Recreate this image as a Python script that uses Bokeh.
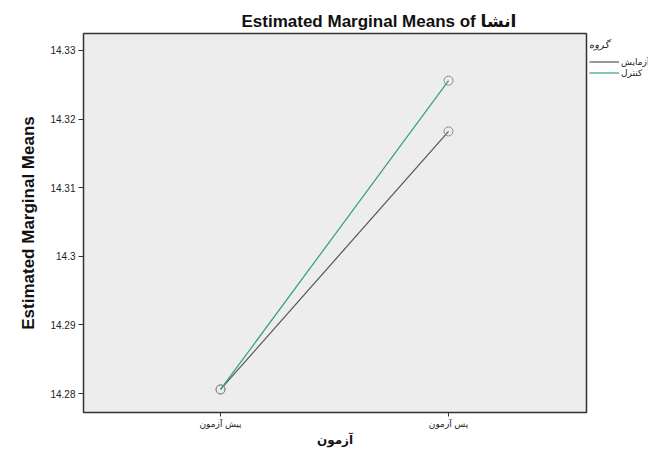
from bokeh.plotting import figure
from bokeh.layouts import row
from bokeh.models import ColumnDataSource, FixedTicker, Legend, LegendItem, Range1d
from bokeh.embed import file_html
from bokeh.resources import INLINE

categories = ["پیش آزمون", "پس آزمون"]
group_names = ["آزمایش", "کنترل"]
experiment = [14.2806, 14.3182]
control = [14.2806, 14.3256]
y_ticks = [14.28, 14.29, 14.30, 14.31, 14.32, 14.33]
y_tick_labels = ["14.28", "14.29", "14.3", "14.31", "14.32", "14.33"]

colors = ["#555555", "#2f9e86"]
x = list(range(len(categories)))

H = 449
p = figure(width=588, height=H, output_backend="svg", toolbar_location=None,
           x_range=Range1d(-0.601, 1.605), y_range=Range1d(14.27724, 14.33247),
           min_border_left=83, min_border_right=2, min_border_top=33, min_border_bottom=36)
p.background_fill_color = "#ededed"
p.border_fill_color = "white"
p.outline_line_color = "#333333"
p.outline_line_width = 1.5
p.xgrid.visible = False
p.ygrid.visible = False

p.title.text = "Estimated Marginal Means of انشا"
p.title.text_font = "Liberation Sans, DejaVu Sans"
p.title.text_font_size = "17px"
p.title.text_font_style = "bold"
p.title.text_color = "#111111"
p.title.align = "left"
p.title.offset = 158
p.title.standoff = 6

sources = []
renderers = []
for vals, col in zip([experiment, control], colors):
    src = ColumnDataSource(dict(x=x, y=vals))
    sources.append(src)
    r = p.line("x", "y", source=src, line_color=col, line_width=1.2)
    p.scatter("x", "y", source=src, marker="circle", size=9, fill_color=None,
              line_color="#8a8a8a", line_width=1)
    renderers.append(r)

p.xaxis.ticker = FixedTicker(ticks=x)
p.xaxis.major_label_overrides = {i: c for i, c in enumerate(categories)}
p.xaxis.axis_label = "آزمون"
p.yaxis.ticker = FixedTicker(ticks=y_ticks)
p.yaxis.major_label_overrides = {t: l for t, l in zip(y_ticks, y_tick_labels)}
p.yaxis.axis_label = "Estimated Marginal Means"

for ax in (p.xaxis[0], p.yaxis[0]):
    ax.major_tick_out = 5
    ax.major_tick_in = 0
    ax.minor_tick_out = 0
    ax.minor_tick_in = 0
    ax.axis_line_color = "#333333"
    ax.major_tick_line_color = "#333333"
    ax.major_label_text_font = "Liberation Sans, DejaVu Sans"
    ax.major_label_text_font_size = "10px"
    ax.major_label_text_color = "#222222"
    ax.major_label_standoff = 3
    ax.axis_label_text_font_style = "bold"
    ax.axis_label_text_color = "#111111"

p.xaxis.major_tick_out = 4
p.xaxis.major_label_standoff = 2
p.xaxis.major_label_text_font_size = "9px"
p.yaxis.axis_label_text_font = "Liberation Sans Narrow, Liberation Sans"
p.yaxis.axis_label_text_font_size = "17px"
p.yaxis.axis_label_standoff = 9
p.xaxis.axis_label_text_font = "DejaVu Sans"
p.xaxis.axis_label_text_font_size = "12px"
p.xaxis.axis_label_standoff = 1

# legend panel to the right of the plot frame
q = figure(width=60, height=H, output_backend="svg", toolbar_location=None,
           x_range=Range1d(10, 11), y_range=Range1d(14.27724, 14.33247),
           x_axis_type=None, y_axis_type=None, min_border=0)
q.outline_line_color = None
q.background_fill_color = "white"
q.border_fill_color = "white"
q.xgrid.visible = False
q.ygrid.visible = False
leg_renderers = [q.line("x", "y", source=s, line_color=c, line_width=1.2)
                 for s, c in zip(sources, colors)]

legend = Legend(items=[LegendItem(label=n, renderers=[r]) for n, r in zip(group_names, leg_renderers)],
                title="گروه", title_text_font_size="10px", title_text_font="DejaVu Sans",
                title_text_color="#222222",
                label_text_font_size="9px", label_text_font="DejaVu Sans",
                label_text_color="#222222",
                glyph_width=30, glyph_height=11, label_height=11, label_standoff=2,
                spacing=0, padding=2, margin=0, border_line_color=None,
                background_fill_alpha=0, title_standoff=6,
                location=(1, 334))
q.add_layout(legend, "center")

layout = row(p, q)
open("out.html", "w").write(file_html(layout, INLINE))
